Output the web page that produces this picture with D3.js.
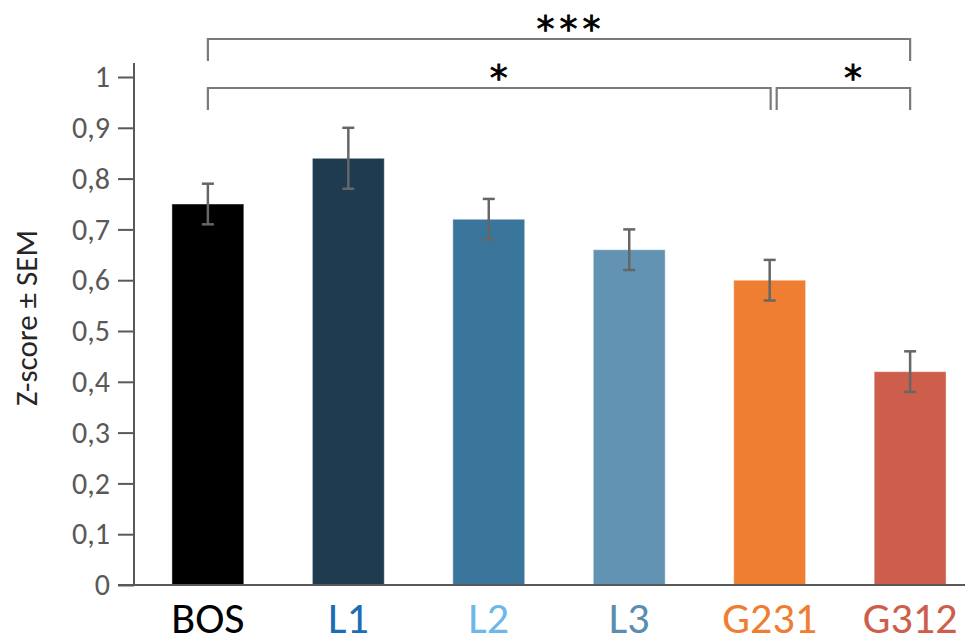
<!DOCTYPE html>
<html>
<head>
<meta charset="utf-8">
<script src="https://cdn.jsdelivr.net/npm/d3@7"></script>
<style>
  html, body { margin: 0; padding: 0; background: #ffffff; }
  svg { display: block; }
</style>
</head>
<body>
<svg id="chart" width="969" height="644"></svg>
<script>
// ---- data ----
const categories = ["BOS", "L1", "L2", "L3", "G231", "G312"];
const means = [0.75, 0.84, 0.72, 0.66, 0.60, 0.42];
const sem = [0.04, 0.06, 0.04, 0.04, 0.04, 0.04];
const barColors = ["#000000", "#1f3b50", "#3a769c", "#6393b2", "#ef7d32", "#cd5e4b"];
const labelColors = ["#000000", "#1b6db4", "#6db8ea", "#5b8db0", "#ef7d32", "#cd5e4b"];
const yTicks = [0, 0.1, 0.2, 0.3, 0.4, 0.5, 0.6, 0.7, 0.8, 0.9, 1];
const yTickLabels = ["0", "0,1", "0,2", "0,3", "0,4", "0,5", "0,6", "0,7", "0,8", "0,9", "1"];
const yTitle = "Z-score ± SEM";
// significance brackets: from category, to category, label, level
const sigFrom = ["BOS", "BOS", "G231"];
const sigTo = ["G312", "G231", "G312"];
const sigLabels = ["***", "*", "*"];
const sigLevels = [0, 1, 1];

// ---- layout ----
const svg = d3.select("#chart");
const axisX = 134, axisRight = 965, baseY = 585, topY = 77;

const y = d3.scaleLinear().domain([0, 1]).range([baseY, topY]);
const x = d3.scaleBand().domain(categories).range([134, 984])
  .paddingInner(0.488).paddingOuter(0.27);

// bars
svg.append("g").selectAll("rect").data(categories).join("rect")
  .attr("x", d => x(d))
  .attr("width", x.bandwidth())
  .attr("y", (d, i) => y(means[i]))
  .attr("height", (d, i) => y(0) - y(means[i]))
  .attr("fill", (d, i) => barColors[i])
  .attr("stroke", "rgba(255,255,255,0.45)")
  .attr("stroke-width", 1);

// error bars
const eg = svg.append("g").attr("stroke", "#666666").attr("stroke-width", 2.5).attr("fill", "none");
categories.forEach((c, i) => {
  const cx = x(c) + x.bandwidth() / 2;
  const y1 = y(means[i] + sem[i]), y2 = y(means[i] - sem[i]);
  eg.append("line").attr("x1", cx).attr("x2", cx).attr("y1", y1).attr("y2", y2);
  eg.append("line").attr("x1", cx - 6).attr("x2", cx + 6).attr("y1", y1).attr("y2", y1);
  eg.append("line").attr("x1", cx - 6).attr("x2", cx + 6).attr("y1", y2).attr("y2", y2);
});

// y axis
const yAxis = d3.axisLeft(y).tickValues(yTicks)
  .tickFormat((d, i) => yTickLabels[i]).tickSize(16).tickPadding(8);
const ga = svg.append("g").attr("transform", `translate(${axisX},0)`).call(yAxis);
ga.select(".domain").attr("stroke", "#595959").attr("stroke-width", 2)
  .attr("d", `M-16,${baseY}H0V${topY - 14}`);
ga.selectAll(".tick line").attr("stroke", "#595959").attr("stroke-width", 2);
ga.selectAll(".tick text").attr("fill", "#595959")
  .style("font-family", "Carlito, 'Open Sans', sans-serif").style("font-size", "30px");

// x axis line
svg.append("line").attr("x1", axisX).attr("x2", axisRight)
  .attr("y1", baseY).attr("y2", baseY)
  .attr("stroke", "#595959").attr("stroke-width", 2);

// x labels
svg.append("g").selectAll("text").data(categories).join("text")
  .attr("x", d => x(d) + x.bandwidth() / 2)
  .attr("y", 633)
  .attr("text-anchor", "middle")
  .attr("fill", (d, i) => labelColors[i])
  .style("font-family", "Carlito, 'Liberation Sans Narrow', 'Open Sans', sans-serif")
  .style("font-size", "44px")
  .text(d => d);

// y title
svg.append("text")
  .attr("transform", "translate(37,318) rotate(-90)")
  .attr("text-anchor", "middle")
  .attr("fill", "#262626")
  .style("font-family", "Carlito, 'Open Sans', sans-serif")
  .style("font-size", "31px")
  .text(yTitle);

// significance brackets
const levelY = [39, 88];
const drop = 22;
const sg = svg.append("g");
sigFrom.forEach((f, i) => {
  const x1 = x(f) + x.bandwidth() / 2 + (sigFrom[i] === "G231" ? 7 : 0);
  const x2 = x(sigTo[i]) + x.bandwidth() / 2 - (sigTo[i] === "G231" ? -1 : 0);
  const ly = levelY[sigLevels[i]];
  sg.append("path")
    .attr("d", `M${x1},${ly + drop}V${ly}H${x2}V${ly + drop}`)
    .attr("fill", "none").attr("stroke", "#7a7a7a").attr("stroke-width", 2.2);
  sg.append("text")
    .attr("x", (x1 + x2) / 2 + 12)
    .attr("y", ly + 2)
    .attr("text-anchor", "middle")
    .attr("fill", "#000")
    .attr("stroke", "#000")
    .attr("stroke-width", 0.8)
    .style("font-family", "'DejaVu Sans', sans-serif")
    .style("font-size", "36px")
    .style("letter-spacing", "5px")
    .text(sigLabels[i]);
});
</script>
</body>
</html>
